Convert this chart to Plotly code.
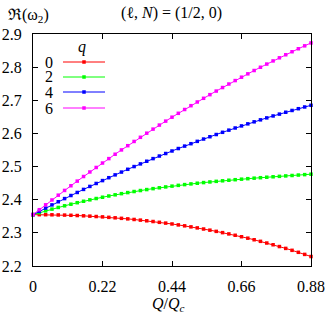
import plotly.graph_objects as go

Q = [0.00, 0.02, 0.04, 0.06, 0.08, 0.10, 0.12, 0.14, 0.16, 0.18,
     0.20, 0.22, 0.24, 0.26, 0.28, 0.30, 0.32, 0.34, 0.36, 0.38,
     0.40, 0.42, 0.44, 0.46, 0.48, 0.50, 0.52, 0.54, 0.56, 0.58,
     0.60, 0.62, 0.64, 0.66, 0.68, 0.70, 0.72, 0.74, 0.76, 0.78,
     0.80, 0.82, 0.84, 0.86, 0.88]

q0 = [2.3550, 2.3549, 2.3548, 2.3545, 2.3541, 2.3536, 2.3530, 2.3523, 2.3514, 2.3504,
      2.3493, 2.3482, 2.3468, 2.3454, 2.3438, 2.3422, 2.3404, 2.3384, 2.3364, 2.3342,
      2.3318, 2.3294, 2.3268, 2.3240, 2.3212, 2.3181, 2.3150, 2.3116, 2.3081, 2.3045,
      2.3007, 2.2968, 2.2927, 2.2883, 2.2839, 2.2792, 2.2744, 2.2693, 2.2641, 2.2587,
      2.2531, 2.2473, 2.2413, 2.2350, 2.2286]

q2 = [2.3550, 2.3607, 2.3663, 2.3716, 2.3767, 2.3816, 2.3864, 2.3910, 2.3953, 2.3996,
      2.4036, 2.4075, 2.4112, 2.4148, 2.4183, 2.4215, 2.4247, 2.4277, 2.4306, 2.4334,
      2.4360, 2.4386, 2.4410, 2.4433, 2.4456, 2.4477, 2.4497, 2.4517, 2.4536, 2.4554,
      2.4571, 2.4588, 2.4604, 2.4620, 2.4635, 2.4650, 2.4664, 2.4678, 2.4692, 2.4705,
      2.4718, 2.4731, 2.4744, 2.4757, 2.4770]

q4 = [2.3550, 2.3649, 2.3747, 2.3844, 2.3939, 2.4034, 2.4127, 2.4219, 2.4311, 2.4401,
      2.4490, 2.4577, 2.4664, 2.4750, 2.4834, 2.4918, 2.5000, 2.5081, 2.5161, 2.5240,
      2.5318, 2.5394, 2.5470, 2.5544, 2.5618, 2.5690, 2.5761, 2.5831, 2.5900, 2.5967,
      2.6034, 2.6099, 2.6164, 2.6227, 2.6289, 2.6350, 2.6410, 2.6469, 2.6527, 2.6583,
      2.6639, 2.6693, 2.6746, 2.6798, 2.6849]

q6 = [2.3550, 2.3699, 2.3846, 2.3992, 2.4137, 2.4280, 2.4421, 2.4561, 2.4700, 2.4837,
      2.4973, 2.5107, 2.5240, 2.5372, 2.5502, 2.5630, 2.5758, 2.5883, 2.6007, 2.6130,
      2.6252, 2.6371, 2.6490, 2.6607, 2.6722, 2.6837, 2.6949, 2.7060, 2.7170, 2.7278,
      2.7385, 2.7491, 2.7595, 2.7697, 2.7798, 2.7898, 2.7996, 2.8093, 2.8188, 2.8282,
      2.8374, 2.8465, 2.8555, 2.8643, 2.8730]

series_names = ["0", "2", "4", "6"]
series_vals = [q0, q2, q4, q6]
series_colors = ["#ff0000", "#00ff00", "#0000ff", "#ff00ff"]

x_ticks = [0, 0.22, 0.44, 0.66, 0.88]
x_ticktext = ["0", "0.22", "0.44", "0.66", "0.88"]
y_ticks = [2.2, 2.3, 2.4, 2.5, 2.6, 2.7, 2.8, 2.9]
y_ticktext = ["2.2", "2.3", "2.4", "2.5", "2.6", "2.7", "2.8", "2.9"]

FONT = "Liberation Serif"
FS = 16

fig = go.Figure()
for name, vals, col in zip(series_names, series_vals, series_colors):
    fig.add_trace(go.Scatter(
        x=Q, y=vals, mode="lines+markers", name=name,
        line=dict(color=col, width=1),
        marker=dict(color=col, size=3.5, symbol="square"),
        cliponaxis=False, showlegend=False,
    ))

# plot area pixels: left 33, right 311, top 34, bottom 266
W, H = 329, 315
L, R, T, B = 33, 18, 34, 49
pw, ph = W - L - R, H - T - B


def px(xp):
    return (xp - L) / pw


def py(yp):
    return (H - B - yp) / ph


annotations = [
    dict(text="ℜ(ω<sub>2</sub>)", x=px(28), y=py(16)),
    dict(text="(ℓ, <i>N</i>) = (1/2, 0)", x=px(171), y=py(13)),
    dict(text="<i>Q</i>/<i>Q</i><sub><i>c</i></sub>", x=px(168), y=py(304)),
    dict(text="<i>q</i>", x=px(82), y=py(47)),
]
legend_rows = [62, 77, 92, 108]
shapes = []
for name, col, yr in zip(series_names, series_colors, legend_rows):
    annotations.append(dict(text=name, x=px(49), y=py(yr)))
    shapes.append(dict(type="line", xref="paper", yref="paper",
                       x0=px(63), x1=px(105), y0=py(yr), y1=py(yr),
                       line=dict(color=col, width=1)))
    shapes.append(dict(type="rect", xref="paper", yref="paper",
                       xsizemode="pixel", ysizemode="pixel",
                       xanchor=px(84), yanchor=py(yr),
                       x0=-1.75, x1=1.75, y0=-1.75, y1=1.75,
                       fillcolor=col, line=dict(width=0)))

for a in annotations:
    a.update(xref="paper", yref="paper", showarrow=False,
             xanchor="center", yanchor="middle",
             font=dict(family=FONT, size=FS, color="black"))

axis_common = dict(
    showline=True, linecolor="black", linewidth=1, mirror="ticks",
    ticks="inside", ticklen=5, tickcolor="black", tickwidth=1,
    showgrid=False, zeroline=False, automargin=False,
    tickfont=dict(family=FONT, size=FS, color="black"),
)

fig.update_layout(
    width=W, height=H,
    margin=dict(l=L, r=R, t=T, b=B, autoexpand=False),
    paper_bgcolor="white", plot_bgcolor="white",
    font=dict(family=FONT, size=FS, color="black"),
    xaxis=dict(range=[0, 0.88], tickvals=x_ticks, ticktext=x_ticktext,
               ticklabelstandoff=6, **axis_common),
    yaxis=dict(range=[2.2, 2.9], tickvals=y_ticks, ticktext=y_ticktext,
               ticklabelstandoff=7, **axis_common),
    annotations=annotations,
    shapes=shapes,
    showlegend=False,
)

fig.write_html(
    "out.html",
    config={"displayModeBar": False},
    post_script="document.body.style.margin='0px';document.body.style.padding='0px';",
)
